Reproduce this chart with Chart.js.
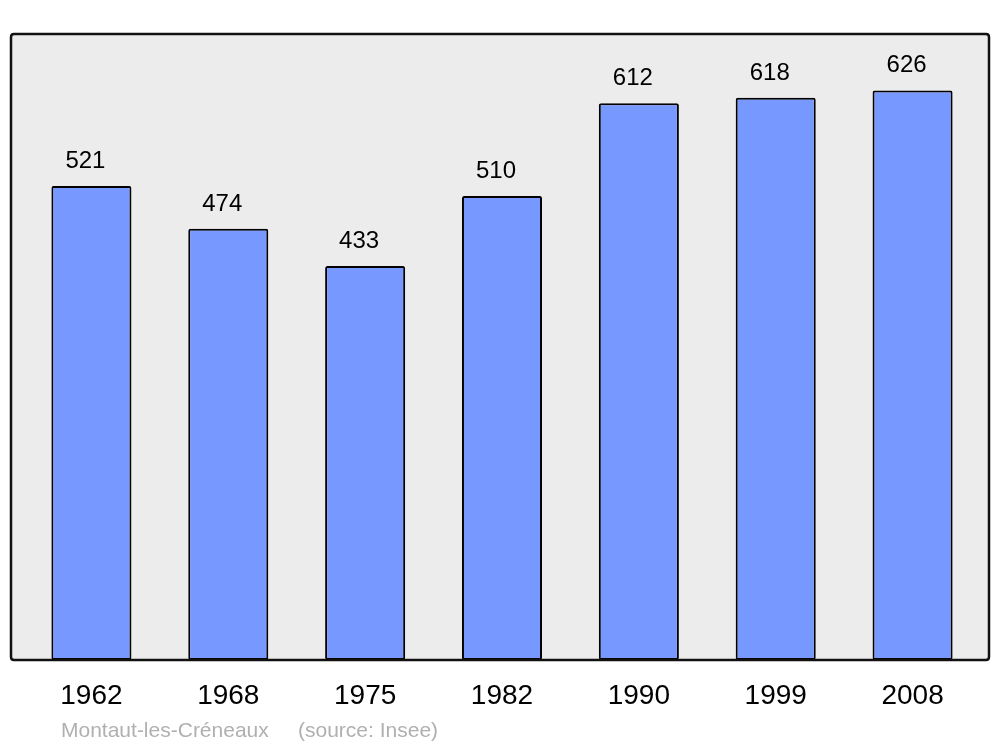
<!DOCTYPE html>
<html>
<head>
<meta charset="utf-8">
<script src="https://cdn.jsdelivr.net/npm/chart.js@4.4.1/dist/chart.umd.min.js"></script>
<style>
  html, body { margin: 0; padding: 0; background: #fff; }
  #wrap { width: 1000px; height: 747px; position: relative; }
</style>
</head>
<body>
<div id="wrap"><canvas id="chart" width="1000" height="747"></canvas></div>
<script>
// population by census year
const years = ['1962', '1968', '1975', '1982', '1990', '1999', '2008']
const population = [521, 474, 433, 510, 612, 618, 626]
const yMax = 688
const townName = 'Montaut-les-Créneaux'
const sourceText = '(source: Insee)'

function roundRect(ctx, x, y, w, h, r) {
    ctx.beginPath()
    ctx.moveTo(x + r, y)
    ctx.lineTo(x + w - r, y)
    ctx.quadraticCurveTo(x + w, y, x + w, y + r)
    ctx.lineTo(x + w, y + h - r)
    ctx.quadraticCurveTo(x + w, y + h, x + w - r, y + h)
    ctx.lineTo(x + r, y + h)
    ctx.quadraticCurveTo(x, y + h, x, y + h - r)
    ctx.lineTo(x, y + r)
    ctx.quadraticCurveTo(x, y, x + r, y)
    ctx.closePath()
}

const framePlugin = {
    id: 'frame',
    beforeDatasetsDraw(chart) {
        const ctx = chart.ctx
        const a = chart.chartArea
        ctx.save()
        roundRect(ctx, a.left - 12, a.top, (a.right + 8) - (a.left - 12), a.bottom - a.top, 3)
        ctx.fillStyle = '#ececec'
        ctx.fill()
        ctx.restore()
    },
    afterDatasetsDraw(chart) {
        const ctx = chart.ctx
        const a = chart.chartArea
        ctx.save()
        roundRect(ctx, a.left - 12, a.top, (a.right + 8) - (a.left - 12), a.bottom - a.top, 3)
        ctx.lineWidth = 2.5
        ctx.strokeStyle = '#111'
        ctx.stroke()

        // values above bars
        ctx.fillStyle = '#000'
        ctx.font = '24px "Liberation Sans", Arial, sans-serif'
        ctx.textAlign = 'center'
        ctx.textBaseline = 'alphabetic'
        chart.getDatasetMeta(0).data.forEach(function (bar, i) {
            ctx.fillText(String(population[i]), bar.x - 6, bar.y - 18)
        })

        // footer
        ctx.fillStyle = '#b0b0b0'
        ctx.font = '21px "Liberation Sans", Arial, sans-serif'
        ctx.textAlign = 'left'
        ctx.fillText(townName, 61, 737)
        ctx.fillText(sourceText, 298, 737)
        ctx.restore()
    }
}

const ctx = document.getElementById('chart').getContext('2d')
const myChart = new Chart(ctx, {
    type: 'bar',
    data: {
        labels: years,
        datasets: [{
            data: population,
            backgroundColor: '#7799ff',
            borderColor: '#000',
            borderWidth: 2,
            borderRadius: 2,
            borderSkipped: false,
            barPercentage: 0.585,
            categoryPercentage: 1
        }]
    },
    options: {
        responsive: false,
        animation: false,
        layout: { padding: { left: 23, right: 19, top: 34, bottom: 0 } },
        plugins: {
            legend: { display: false },
            tooltip: { enabled: false }
        },
        scales: {
            y: { display: false, min: 0, max: yMax },
            x: {
                grid: { display: false, drawTicks: false },
                border: { display: false },
                ticks: {
                    color: '#000',
                    padding: 19,
                    font: { family: '"Liberation Sans", Arial, sans-serif', size: 28 }
                },
                afterFit: function (scale) { scale.height = 87 }
            }
        }
    },
    plugins: [framePlugin]
})
</script>
</body>
</html>
